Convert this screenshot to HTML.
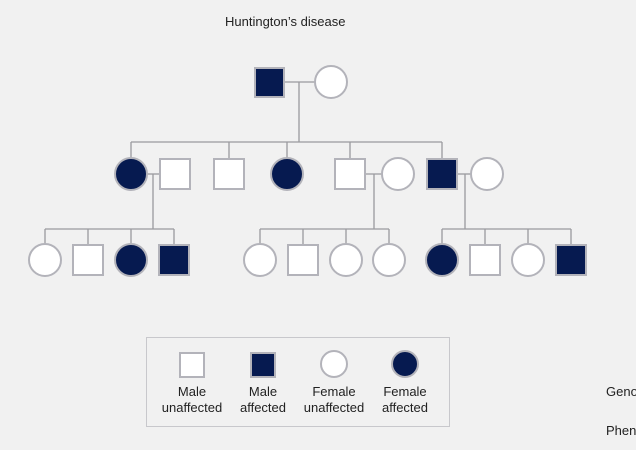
<!DOCTYPE html>
<html><head><meta charset="utf-8"><style>
html,body{margin:0;padding:0;background:#f1f1f1;width:636px;height:450px;overflow:hidden}
svg{display:block;font-family:"Liberation Sans",Arial,sans-serif}
</style></head><body>
<svg width="636" height="450" viewBox="0 0 636 450">
<rect width="636" height="450" fill="#f1f1f1"/>
<text x="225" y="26" font-size="13" fill="#222">Huntington’s disease</text>
<g stroke="#9a9a9e" stroke-width="1.3" fill="none">
<line x1="284" y1="82" x2="315" y2="82"/>
<line x1="299" y1="82" x2="299" y2="142"/>
<line x1="131" y1="142" x2="442" y2="142"/>
<line x1="131" y1="142" x2="131" y2="158"/>
<line x1="229" y1="142" x2="229" y2="159"/>
<line x1="287" y1="142" x2="287" y2="158"/>
<line x1="350" y1="142" x2="350" y2="159"/>
<line x1="442" y1="142" x2="442" y2="159"/>
<line x1="147" y1="174" x2="160" y2="174"/>
<line x1="153" y1="174" x2="153" y2="229"/>
<line x1="45" y1="229" x2="174" y2="229"/>
<line x1="45" y1="229" x2="45" y2="244"/><line x1="88" y1="229" x2="88" y2="245"/><line x1="131" y1="229" x2="131" y2="244"/><line x1="174" y1="229" x2="174" y2="245"/>
<line x1="365" y1="174" x2="382" y2="174"/>
<line x1="374" y1="174" x2="374" y2="229"/>
<line x1="260" y1="229" x2="389" y2="229"/>
<line x1="260" y1="229" x2="260" y2="244"/><line x1="303" y1="229" x2="303" y2="245"/><line x1="346" y1="229" x2="346" y2="244"/><line x1="389" y1="229" x2="389" y2="244"/>
<line x1="457" y1="174" x2="471" y2="174"/>
<line x1="465" y1="174" x2="465" y2="229"/>
<line x1="442" y1="229" x2="571" y2="229"/>
<line x1="442" y1="229" x2="442" y2="244"/><line x1="485" y1="229" x2="485" y2="245"/><line x1="528" y1="229" x2="528" y2="244"/><line x1="571" y1="229" x2="571" y2="245"/>
</g>
<g stroke="#b3b3ba" stroke-width="2">
<rect x="255" y="68" width="29" height="29" fill="#061a50"/>
<circle cx="331" cy="82" r="16" fill="#fff"/>
<circle cx="131" cy="174" r="16" fill="#061a50"/>
<rect x="160" y="159" width="30" height="30" fill="#fff"/>
<rect x="214" y="159" width="30" height="30" fill="#fff"/>
<circle cx="287" cy="174" r="16" fill="#061a50"/>
<rect x="335" y="159" width="30" height="30" fill="#fff"/>
<circle cx="398" cy="174" r="16" fill="#fff"/>
<rect x="427" y="159" width="30" height="30" fill="#061a50"/>
<circle cx="487" cy="174" r="16" fill="#fff"/>
<circle cx="45" cy="260" r="16" fill="#fff"/>
<rect x="73" y="245" width="30" height="30" fill="#fff"/>
<circle cx="131" cy="260" r="16" fill="#061a50"/>
<rect x="159" y="245" width="30" height="30" fill="#061a50"/>
<circle cx="260" cy="260" r="16" fill="#fff"/>
<rect x="288" y="245" width="30" height="30" fill="#fff"/>
<circle cx="346" cy="260" r="16" fill="#fff"/>
<circle cx="389" cy="260" r="16" fill="#fff"/>
<circle cx="442" cy="260" r="16" fill="#061a50"/>
<rect x="470" y="245" width="30" height="30" fill="#fff"/>
<circle cx="528" cy="260" r="16" fill="#fff"/>
<rect x="556" y="245" width="30" height="30" fill="#061a50"/>
</g>
<rect x="146.5" y="337.5" width="303" height="89" fill="none" stroke="#c8c8cc" stroke-width="1"/>
<g stroke="#b3b3ba" stroke-width="2">
<rect x="180" y="353" width="24" height="24" fill="#fff"/>
<rect x="251" y="353" width="24" height="24" fill="#061a50"/>
<circle cx="334" cy="364" r="13" fill="#fff"/>
<circle cx="405" cy="364" r="13" fill="#061a50"/>
</g>
<g font-size="13" fill="#222" text-anchor="middle">
<text x="192" y="396">Male</text><text x="192" y="412">unaffected</text>
<text x="263" y="396">Male</text><text x="263" y="412">affected</text>
<text x="334" y="396">Female</text><text x="334" y="412">unaffected</text>
<text x="405" y="396">Female</text><text x="405" y="412">affected</text>
</g>
<text x="606" y="396" font-size="13" fill="#222">Genotype</text>
<text x="606" y="435" font-size="13" fill="#222">Phenotype</text>
</svg>
</body></html>
